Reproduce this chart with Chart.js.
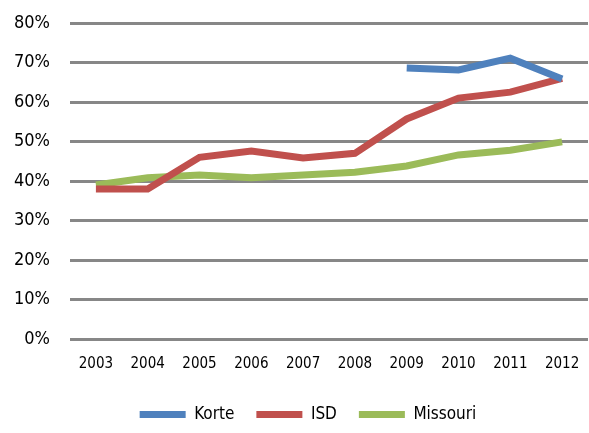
<!DOCTYPE html>
<html><head><meta charset="utf-8">
<script src="https://cdn.jsdelivr.net/npm/chart.js@4/dist/chart.umd.min.js"></script>
<style>html,body{margin:0;padding:0;background:#fff}#wrap{width:589px;height:433px}</style>
</head><body><div id="wrap"><canvas id="c" width="589" height="433"></canvas></div>
<script>
const years = ['2003','2004','2005','2006','2007','2008','2009','2010','2011','2012'];
const korte = [null,null,null,null,null,null,68.6,68.1,71.1,65.8];
const isd = [38,38,46,47.6,45.8,47,55.7,61,62.5,66];
const missouri = [39,40.8,41.5,40.8,41.5,42.2,43.8,46.6,47.8,49.9];
const yTicks = [0,10,20,30,40,50,60,70,80];
const FONT = 'Liberation Sans Narrow, "DejaVu Sans Condensed", Liberation Sans, sans-serif';

const shiftLegend = {
  id:'shiftLegend',
  afterLayout(chart){ const l = chart.legend; if(l){ l.left += 14; l.right += 14; } }
};

new Chart(document.getElementById('c'), {
  type: 'line',
  data: {
    labels: years,
    datasets: [
      {label:'Korte', data:korte, borderColor:'#4F81BD', backgroundColor:'#4F81BD', borderWidth:7, pointRadius:0, tension:0},
      {label:'ISD', data:isd, borderColor:'#C0504D', backgroundColor:'#C0504D', borderWidth:7, pointRadius:0, tension:0},
      {label:'Missouri', data:missouri, borderColor:'#9BBB59', backgroundColor:'#9BBB59', borderWidth:7, pointRadius:0, tension:0}
    ]
  },
  options: {
    responsive:false, animation:false,
    layout:{padding:{left:0,right:1,top:23,bottom:0}},
    plugins:{
      tooltip:{enabled:false},
      legend:{position:'bottom', labels:{usePointStyle:true, pointStyle:'line', pointStyleWidth:46, boxHeight:8, padding:22, color:'#000', font:{family:FONT, size:17}}}
    },
    scales:{
      x:{offset:true, grid:{display:true, drawOnChartArea:false, drawTicks:true, tickLength:16, tickColor:'rgba(0,0,0,0)', color:'rgba(0,0,0,0)'}, border:{display:false},
         afterFit:(s)=>{s.height=45;},
         ticks:{color:'#000', padding:0, maxRotation:0, font:{family:FONT, size:15}}},
      y:{min:0, max:80, afterBuildTicks:(ax)=>{ax.ticks = yTicks.map(v=>({value:v}));},
         afterFit:(s)=>{s.width=70; s.paddingTop=0; s.paddingBottom=0;},
         grid:{color:'#878787', lineWidth:3, drawTicks:false}, border:{display:false},
         ticks:{color:'#000', padding:20, callback:v=>v+'%', font:{family:FONT, size:18}}}
    }
  },
  plugins:[shiftLegend]
});
</script></body></html>
